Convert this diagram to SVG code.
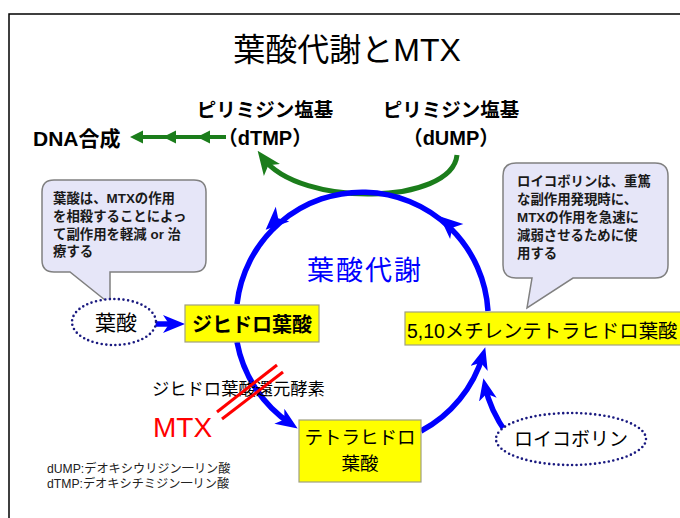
<svg xmlns="http://www.w3.org/2000/svg" width="680" height="518" viewBox="0 0 680 518">
<defs>
<style>
.t{font-family:"Liberation Sans","Noto Sans CJK JP",sans-serif;fill:#000}
.b{font-weight:bold}
.box{fill:#ffff00;stroke:#a0a080;stroke-width:1.2}
.dot{fill:#fff;stroke:#1a1a80;stroke-width:2.6;stroke-dasharray:0 4.6;stroke-linecap:round}
.call{fill:#e6e6f8;stroke:#808080;stroke-width:1.5}
.ct{font-family:"Liberation Sans","Noto Sans CJK JP",sans-serif;font-weight:bold;font-size:13.4px;fill:#1a1a1a}
.blue{fill:none;stroke:#0000ff;stroke-width:5.5}
.green{fill:none;stroke:#1b7d1b;stroke-width:5}
</style>
<marker id="mb" markerUnits="userSpaceOnUse" viewBox="0 0 22 18" refX="14" refY="9" markerWidth="22" markerHeight="18" orient="auto">
<path d="M0,0 L22,9 L0,18 L6,9 Z" fill="#0000ff"/>
</marker>
<marker id="mg" markerUnits="userSpaceOnUse" viewBox="0 0 24 20" refX="15" refY="10" markerWidth="24" markerHeight="20" orient="auto">
<path d="M0,0 L24,10 L0,20 L6,10 Z" fill="#1b7d1b"/>
</marker>
<path id="ah" d="M10,0 L-13,-10 L-7,0 L-13,10 Z" fill="#0000ff"/>
<path id="gh" d="M0,0 L13,-6.5 L13,6.5 Z" fill="#1b7d1b"/>
</defs>

<path d="M9,518 V14 H680" fill="none" stroke="#000" stroke-width="1.5"/>

<text class="t" x="347" y="61" font-size="32" text-anchor="middle">葉酸代謝とMTX</text>

<g id="connectors">
<path class="green" d="M457,155 C452,205 300,208 263,158" marker-end="url(#mg)"/>
<line x1="226" y1="137" x2="136" y2="137" stroke="#1b7d1b" stroke-width="4"/>
<use href="#gh" x="130" y="137"/>
<use href="#gh" x="163" y="137"/>
<use href="#gh" x="197" y="137"/>
<path class="blue" d="M488,311 A126,126 0 0 0 237,304"/>
<use href="#ah" transform="translate(447,223) rotate(-138.5)"/>
<use href="#ah" transform="translate(273,223) rotate(137.2)"/>
<path class="blue" d="M237,342 A126,126 0 0 0 291,424" marker-end="url(#mb)"/>
<path class="blue" d="M421,431 A126,126 0 0 0 483,355" marker-end="url(#mb)"/>
<path class="blue" d="M507,434 Q490,410 485,386" marker-end="url(#mb)"/>
<line class="blue" x1="153" y1="324" x2="177" y2="324" marker-end="url(#mb)"/>
</g>

<g id="dtmp">
<text class="t b" x="265" y="117" font-size="19.5" text-anchor="middle">ピリミジン塩基</text>
<text class="t b" x="265" y="145" font-size="20" text-anchor="middle">（dTMP）</text>
</g>
<g id="dump">
<text class="t b" x="451" y="117" font-size="19.5" text-anchor="middle">ピリミジン塩基</text>
<text class="t b" x="451" y="145" font-size="20" text-anchor="middle">（dUMP）</text>
</g>
<g id="dna">
<text class="t b" x="33" y="146" font-size="21">DNA合成</text>
</g>

<g id="cycle-label">
<text class="t" x="307" y="280" font-size="27" letter-spacing="2" style="fill:#0000ff">葉酸代謝</text>
</g>

<g id="callout-left">
<path class="call" d="M54,180 H194 Q206,180 206,192 V260 Q206,272 194,272 H110 V304 L70,272 H54 Q42,272 42,260 V192 Q42,180 54,180 Z"/>
<text class="ct" x="53" y="203">葉酸は、MTXの作用</text>
<text class="ct" x="53" y="221">を相殺することによっ</text>
<text class="ct" x="53" y="239">て副作用を軽減 or 治</text>
<text class="ct" x="53" y="256">療する</text>
</g>

<g id="callout-right">
<path class="call" d="M516,163 H655 Q668,163 668,176 V265 Q668,278 655,278 H573 L527,308 L532,278 H516 Q503,278 503,265 V176 Q503,163 516,163 Z"/>
<text class="ct" x="517" y="186">ロイコボリンは、重篤</text>
<text class="ct" x="517" y="204">な副作用発現時に、</text>
<text class="ct" x="517" y="222">MTXの作用を急速に</text>
<text class="ct" x="517" y="240">減弱させるために使</text>
<text class="ct" x="517" y="258">用する</text>
</g>

<g id="folate">
<ellipse class="dot" cx="114" cy="322" rx="42" ry="23"/>
<text class="t" x="116" y="330" font-size="21" text-anchor="middle">葉酸</text>
</g>

<g id="dhf">
<rect class="box" x="185" y="305" width="134" height="37"/>
<text class="t b" x="252" y="332" font-size="20" text-anchor="middle">ジヒドロ葉酸</text>
</g>

<g id="mthf">
<rect class="box" x="405" y="312" width="285" height="33"/>
<text class="t" x="407" y="338" font-size="19.4">5,10メチレンテトラヒドロ葉酸</text>
</g>

<g id="thf">
<rect class="box" x="299" y="420" width="122" height="62"/>
<text class="t" x="360" y="444" font-size="18.5" text-anchor="middle">テトラヒドロ</text>
<text class="t" x="360" y="470" font-size="18.5" text-anchor="middle">葉酸</text>
</g>

<g id="leucovorin">
<ellipse class="dot" cx="571" cy="439" rx="75" ry="26"/>
<text class="t" x="571" y="446" font-size="19" text-anchor="middle">ロイコボリン</text>
</g>

<g id="dhfr">
<text class="t" x="152" y="395" font-size="17.3">ジヒドロ葉酸還元酵素</text>
</g>

<g id="mtx">
<text class="t" x="153" y="437" font-size="28" style="fill:#ff0000">MTX</text>
<line x1="217" y1="412" x2="277" y2="365" stroke="#ff0000" stroke-width="3"/>
<line x1="222" y1="419" x2="283" y2="372" stroke="#ff0000" stroke-width="3"/>
</g>

<g id="notes">
<text class="t" x="47" y="473" font-size="12.2" style="fill:#222">dUMP:デオキシウリジン一リン酸</text>
<text class="t" x="47" y="488" font-size="12.2" style="fill:#222">dTMP:デオキシチミジン一リン酸</text>
</g>
</svg>
